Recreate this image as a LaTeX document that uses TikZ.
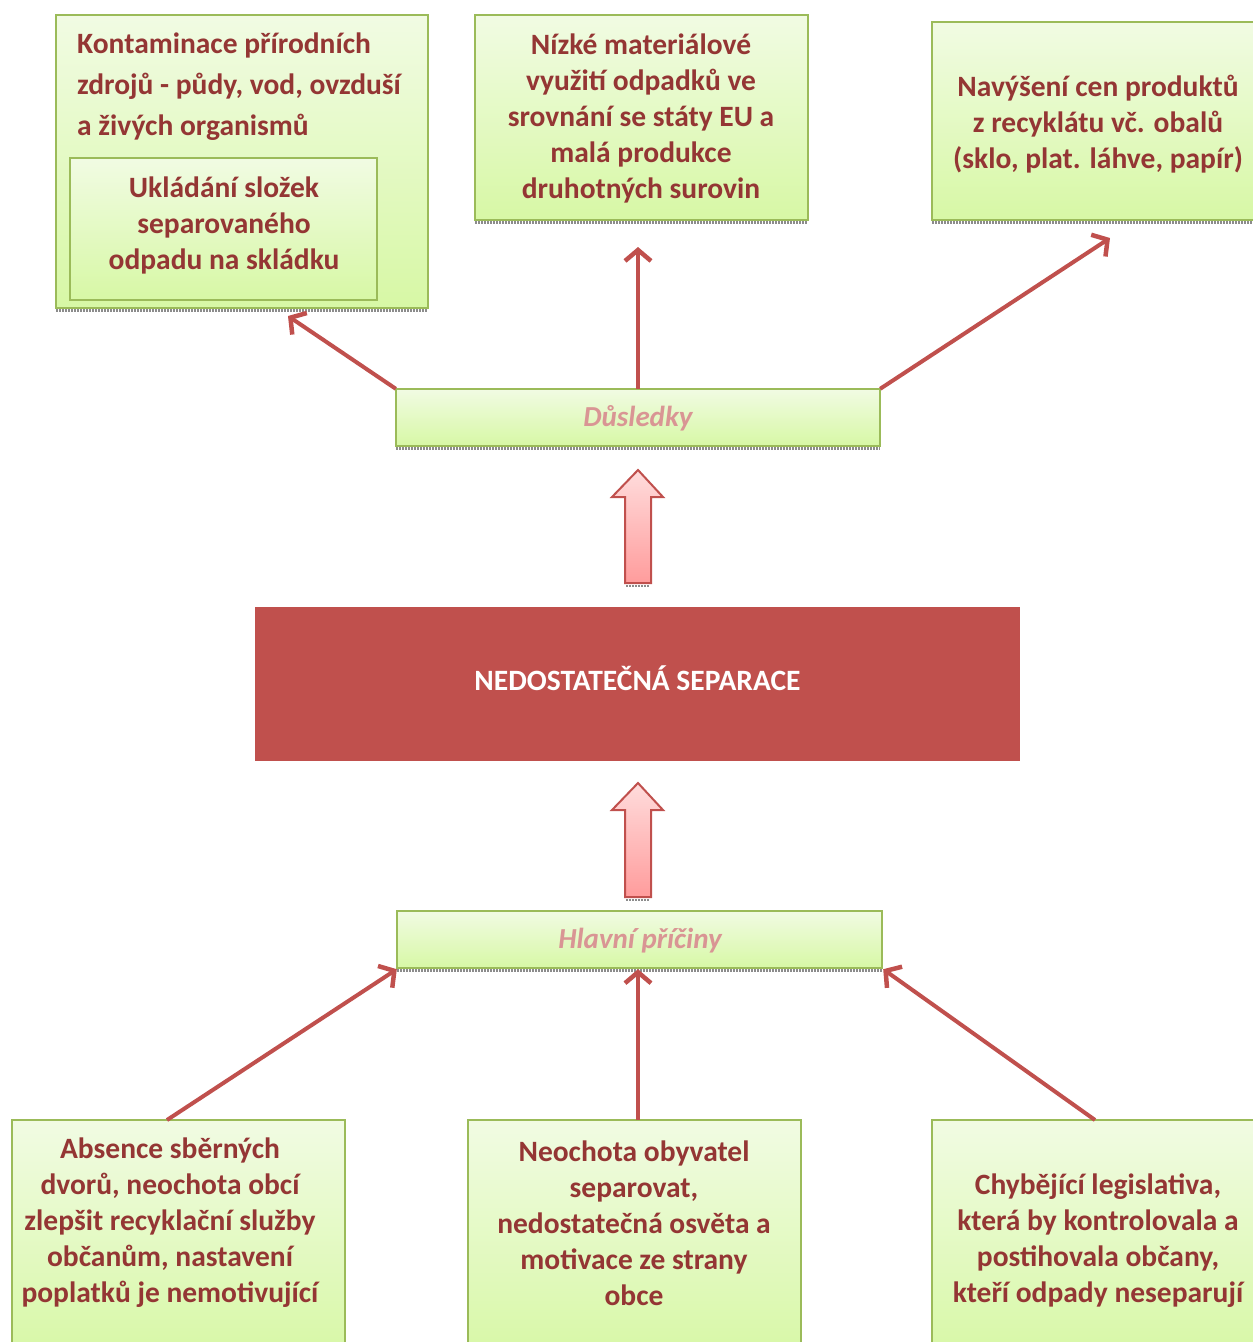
\documentclass[tikz,border=0pt]{standalone}
\usepackage{fontspec}
\setmainfont{Carlito}
\usetikzlibrary{arrows.meta,calc}
\definecolor{txtred}{HTML}{943634}
\definecolor{lblpink}{HTML}{D99594}
\definecolor{boxborder}{HTML}{9BBB59}
\definecolor{boxtop}{HTML}{F1FBE3}
\definecolor{boxbot}{HTML}{D7F8A5}
\definecolor{accred}{HTML}{C0504D}
\definecolor{arrtop}{HTML}{FFDCDC}
\definecolor{arrbot}{HTML}{FF9C9C}
\tikzset{
  gbox/.style={draw=boxborder, line width=2pt, top color=boxtop, bottom color=boxbot, shading angle=0},
  shadowline/.style={draw=black!45, line width=3pt, dash pattern=on 1.5pt off 1.5pt},
  btxt/.style={text=txtred, font=\fontsize{29.5}{36}\selectfont\bfseries, align=center, inner sep=0pt},
  ltxt/.style={text=txtred, font=\fontsize{29.5}{41}\selectfont\bfseries, align=left, inner sep=0pt},
  lbl/.style={text=lblpink, font=\fontsize{29}{30}\selectfont\bfseries\itshape, inner sep=0pt},
  conn/.style={draw=accred, line width=4pt, -{Straight Barb[length=11pt,width=26pt,line width=4.5pt]}},
  harrow/.style={draw=accred, line width=2pt, top color=arrtop, bottom color=arrbot, line join=miter}
}
\begin{document}
\begin{tikzpicture}[x=1pt,y=-1pt]
\useasboundingbox (0,0) rectangle (1253,1342);
\clip (0,0) rectangle (1253,1342);
% shadows
\foreach \a/\b/\c in {56/428/310, 70/377/302, 475/808/222, 932/1253/222, 396/880/448, 397/882/970}{
  \draw[shadowline] (\a,\c) -- (\b,\c);
}
% top boxes
\path[gbox] (56,15) rectangle (428,308);
\node[minimum width=372pt, minimum height=293pt, inner sep=0pt] (tl) at (242,161.5) {};
\path[gbox] (70,158) rectangle (377,300);
\node[minimum width=307pt, minimum height=142pt, inner sep=0pt] (tli) at (223.5,229) {};
\path[gbox] (475,15) rectangle (808,220);
\node[minimum width=333pt, minimum height=205pt, inner sep=0pt] (tm) at (641.5,117.5) {};
\path[gbox] (932,22) rectangle (1262,220);
\node[minimum width=330pt, minimum height=198pt, inner sep=0pt] (tr) at (1097,121) {};
% texts top
\node[ltxt, anchor=north west] (tltext) at (77,33) {Kontaminace přírodních\\zdrojů - půdy, vod, ovzduší\\a živých organismů};
\node[btxt] (tlitext) at (224,225) {Ukládání složek\\separovaného\\odpadu na skládku};
\node[btxt] (tmtext) at (641,118) {Nízké materiálové\\využití odpadků ve\\srovnání se státy EU a\\malá produkce\\druhotných surovin};
\node[btxt] (trtext) at (1098,124) {Navýšení cen produktů\\z recyklátu vč. obalů\\(sklo, plat. láhve, papír)};
% Dusledky
\path[gbox] (396,389) rectangle (880,446);
\node[minimum width=484pt, minimum height=57pt, inner sep=0pt] (dus) at (638,417.5) {};
\node[lbl] (dustext) at (638,418) {Důsledky};
% hollow arrow 1
\path[harrow] (625,583) -- (625,497) -- (612,497) -- (638,470) -- (663,497) -- (651,497) -- (651,583) -- cycle;
\draw[shadowline, line width=2pt] (626,586) -- (650,586);
% main box
\path[fill=accred] (255,607) rectangle (1020,761);
\node[minimum width=765pt, minimum height=154pt, inner sep=0pt, text=white, font=\fontsize{29.5}{30}\selectfont\bfseries] (main) at (637.5,678) {NEDOSTATEČNÁ SEPARACE};
% hollow arrow 2
\path[harrow] (625,897) -- (625,810) -- (612,810) -- (638,783) -- (663,810) -- (651,810) -- (651,897) -- cycle;
\draw[shadowline, line width=2pt] (626,900) -- (650,900);
% Hlavni priciny
\path[gbox] (397,911) rectangle (882,968);
\node[minimum width=485pt, minimum height=57pt, inner sep=0pt] (hp) at (639.5,939.5) {};
\node[lbl] (hptext) at (640,941) {Hlavní příčiny};
% bottom boxes
\path[gbox] (12,1120) rectangle (345,1360);
\node[minimum width=333pt, minimum height=222pt, inner sep=0pt] (bl) at (178.5,1231) {};
\path[gbox] (468,1120) rectangle (801,1360);
\node[minimum width=333pt, minimum height=222pt, inner sep=0pt] (bm) at (634.5,1231) {};
\path[gbox] (932,1120) rectangle (1262,1360);
\node[minimum width=330pt, minimum height=222pt, inner sep=0pt] (br) at (1097,1231) {};
\node[btxt] (bltext) at (170,1223) {Absence sběrných\\dvorů, neochota obcí\\zlepšit recyklační služby\\občanům, nastavení\\poplatků je nemotivující};
\node[btxt] (bmtext) at (634,1223) {Neochota obyvatel\\separovat,\\nedostatečná osvěta a\\motivace ze strany\\obce};
\node[btxt] (brtext) at (1098,1241) {Chybějící legislativa,\\která by kontrolovala a\\postihovala občany,\\kteří odpady neseparují};
% connectors
\coordinate (e1) at (288,316);
\coordinate (e2) at (638,247);
\coordinate (e3) at (1110,238);
\draw[conn] (dus.north west) -- (e1);
\draw[conn] (dus.north) -- (e2);
\draw[conn] (dus.north east) -- (e3);
\coordinate (s1) at (167,1120);
\coordinate (s2) at (638,1120);
\coordinate (s3) at (1095,1120);
\draw[conn] (s1) -- ($(hp.south west)+(0,1)$);
\draw[conn] (s2) -- ($(hp.south)+(-1.5,1)$);
\draw[conn] (s3) -- ($(hp.south east)+(1,1)$);
\end{tikzpicture}
\end{document}
